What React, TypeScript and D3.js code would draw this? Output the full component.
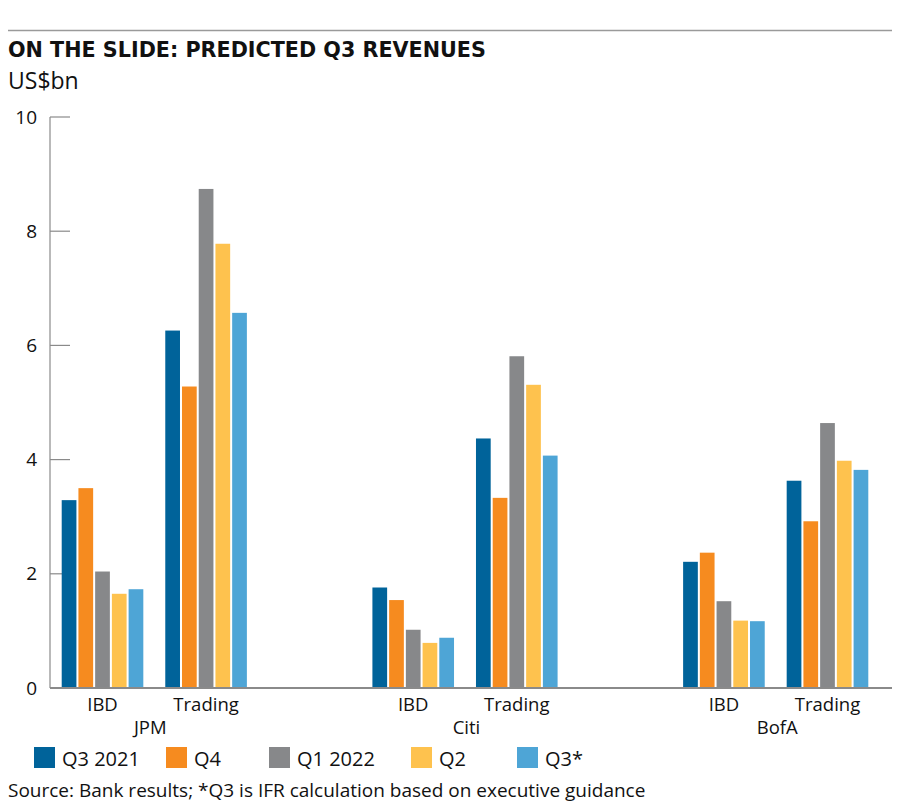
import React from "react";
import * as d3 from "d3";

const banks = ["JPM", "Citi", "BofA"];
const segments = ["IBD", "Trading"];
const seriesNames = ["Q3 2021", "Q4", "Q1 2022", "Q2", "Q3*"];
const seriesColors = ["#00639A", "#F68B1F", "#87888A", "#FEC24E", "#4EA5D6"];
const yTicks = [0, 2, 4, 6, 8, 10];

const jpmIBD = [3.29, 3.5, 2.04, 1.65, 1.73];
const jpmTrading = [6.26, 5.28, 8.74, 7.78, 6.57];
const citiIBD = [1.76, 1.54, 1.02, 0.79, 0.88];
const citiTrading = [4.37, 3.33, 5.81, 5.31, 4.07];
const bofaIBD = [2.21, 2.37, 1.52, 1.18, 1.17];
const bofaTrading = [3.63, 2.92, 4.64, 3.98, 3.82];

const groups = [
  { bank: "JPM", seg: segments[0], values: jpmIBD },
  { bank: "JPM", seg: segments[1], values: jpmTrading },
  { bank: "Citi", seg: segments[0], values: citiIBD },
  { bank: "Citi", seg: segments[1], values: citiTrading },
  { bank: "BofA", seg: segments[0], values: bofaIBD },
  { bank: "BofA", seg: segments[1], values: bofaTrading },
];

const font = "'Open Sans', 'Noto Sans', sans-serif";
const titleFont = "'DejaVu Sans', 'Open Sans', sans-serif";

export default function App() {
  const W = 900;
  const H = 809;
  const left = 50;
  const y0 = 688;
  const yTop = 117;

  const slotKeys = [
    "JPM|IBD", "JPM|Trading", "gap1",
    "Citi|IBD", "Citi|Trading", "gap2",
    "BofA|IBD", "BofA|Trading",
  ];
  const x = d3.scaleBand<string>().domain(slotKeys).range([left, 880]).paddingInner(0.212).paddingOuter(0.113);
  const xs = d3.scaleBand<string>().domain(seriesNames).range([0, x.bandwidth()]).paddingInner(0.12).paddingOuter(0);
  const y = d3.scaleLinear().domain([0, 10]).range([y0, yTop]);

  const bankOffsets = [-4, 1.5, 1.5];
  const legendX = [34, 166, 269, 411, 517];

  return (
    <div style={{ margin: -8 }}>
      <svg width={W} height={H} style={{ display: "block", background: "#fff" }}>
        <line x1={8} x2={892} y1={30.5} y2={30.5} stroke="#9a9a9a" strokeWidth={1.5} />
        <text x={8} y={57} fontFamily={titleFont} fontWeight={700} fontSize={20.7} fill="#111">
          ON THE SLIDE: PREDICTED Q3 REVENUES
        </text>
        <text x={8} y={89} fontFamily={font} fontSize={23} fill="#111">US$bn</text>

        <line x1={left} x2={left} y1={y(10)} y2={y0} stroke="#8a8a8a" strokeWidth={1.2} />
        {yTicks.map((t) => (
          <g key={t}>
            {t > 0 && <line x1={left} x2={left + 20} y1={y(t)} y2={y(t)} stroke="#8a8a8a" strokeWidth={1.2} />}
            <text x={37} y={y(t)} dy="0.35em" textAnchor="end" fontFamily={font} fontSize={19} fill="#111">
              {t}
            </text>
          </g>
        ))}

        {groups.map((g) => {
          const gx = x(`${g.bank}|${g.seg}`)!;
          return (
            <g key={g.bank + g.seg} transform={`translate(${gx},0)`}>
              {g.values.map((v, i) => (
                <rect
                  key={i}
                  x={xs(seriesNames[i])}
                  y={y(v)}
                  width={xs.bandwidth()}
                  height={y0 - y(v)}
                  fill={seriesColors[i]}
                />
              ))}
              <text x={x.bandwidth() / 2} y={711} textAnchor="middle" fontFamily={font} fontSize={18.5} fill="#111">
                {g.seg}
              </text>
            </g>
          );
        })}

        <line x1={left} x2={892} y1={y0} y2={y0} stroke="#8a8a8a" strokeWidth={2} />

        {banks.map((b, i) => {
          const cx = (x(`${b}|IBD`)! + x(`${b}|Trading`)! + x.bandwidth()) / 2;
          return (
            <text key={b} x={cx + bankOffsets[i]} y={733.5} textAnchor="middle" fontFamily={font} fontSize={18.5} fill="#111">
              {b}
            </text>
          );
        })}

        {seriesNames.map((s, i) => (
          <g key={s} transform={`translate(${legendX[i]},747)`}>
            <rect x={0} y={0} width={21} height={21} fill={seriesColors[i]} />
            <text x={28} y={19} fontFamily={font} fontSize={20} fill="#111">{s}</text>
          </g>
        ))}

        <text x={8} y={797} fontFamily={font} fontSize={19} fill="#111">
          Source: Bank results; *Q3 is IFR calculation based on executive guidance
        </text>
      </svg>
    </div>
  );
}
